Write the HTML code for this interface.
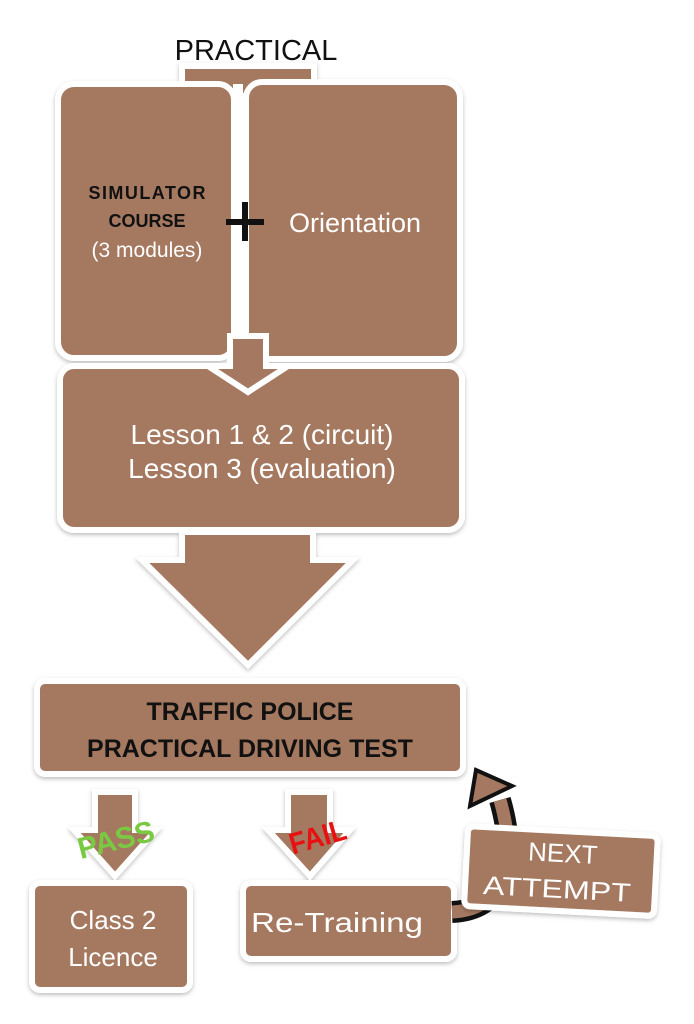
<!DOCTYPE html>
<html><head><style>body{margin:0;background:#fff}svg{display:block}</style></head>
<body>
<svg width="694" height="1024" viewBox="0 0 694 1024" xmlns="http://www.w3.org/2000/svg" font-family="Liberation Sans, sans-serif">
<defs><filter id="sh" x="-10%" y="-10%" width="120%" height="130%"><feDropShadow dx="0" dy="2" stdDeviation="2" flood-color="#000" flood-opacity="0.25"/></filter></defs>
<g fill="#a57961" stroke="#fff" stroke-width="6" filter="url(#sh)">
<rect x="182" y="66" width="132" height="30"/>
<rect x="58" y="84" width="176" height="274" rx="16"/>
<rect x="246" y="82" width="214" height="277" rx="16"/>
<rect x="60" y="366" width="402" height="164" rx="14"/>
<polygon points="182,532 313,532 313,560 353,560 248,665 142,560 182,560"/>
<rect x="37" y="681" width="426" height="93" rx="8"/>
<polygon points="95,792 135,792 135,830 156,830 115,876 74,830 95,830"/>
<polygon points="288,792 330,792 330,830 350,830 310,876 268,830 288,830"/>
<rect x="32" y="883" width="158" height="107" rx="8"/>
<rect x="243" y="883" width="211" height="76" rx="8"/>
</g>
<line x1="238" y1="84" x2="238" y2="340" stroke="#fff" stroke-width="10"/>
<polygon points="230,336 266,336 266,366 288,366 248,392 208,366 230,366" fill="#a57961" stroke="#fff" stroke-width="6"/>
<text x="256" y="60" font-size="29" text-anchor="middle" fill="#111">PRACTICAL</text>
<text x="147" y="199" font-size="18" font-weight="bold" text-anchor="middle" fill="#111" textLength="117">SIMULATOR</text>
<text x="147" y="227" font-size="18" font-weight="bold" text-anchor="middle" fill="#111">COURSE</text>
<text x="147" y="257" font-size="21" text-anchor="middle" fill="#fff">(3 modules)</text>
<path d="M226,222 H264 M245,202 V241" stroke="#111" stroke-width="6"/>
<text x="355" y="232" font-size="27" text-anchor="middle" fill="#fff">Orientation</text>
<text x="262" y="444" font-size="28" text-anchor="middle" fill="#fff">Lesson 1 &amp; 2 (circuit)</text>
<text x="262" y="478" font-size="28" text-anchor="middle" fill="#fff">Lesson 3 (evaluation)</text>
<text x="250" y="720" font-size="25" font-weight="bold" text-anchor="middle" fill="#111">TRAFFIC POLICE</text>
<text x="250" y="757" font-size="25" font-weight="bold" text-anchor="middle" fill="#111">PRACTICAL DRIVING TEST</text>
<text x="116" y="850" font-size="30" font-weight="bold" text-anchor="middle" fill="#7ac943" transform="rotate(-14 116 840)" textLength="78" lengthAdjust="spacingAndGlyphs">PASS</text>
<text x="318" y="847" font-size="30" font-weight="bold" text-anchor="middle" fill="#e81010" transform="rotate(-16 318 838)" textLength="58" lengthAdjust="spacingAndGlyphs">FAIL</text>
<text x="113" y="929" font-size="26" text-anchor="middle" fill="#fff">Class 2</text>
<text x="113" y="966" font-size="26" text-anchor="middle" fill="#fff">Licence</text>
<text x="337" y="932" font-size="28" text-anchor="middle" fill="#fff" textLength="172" lengthAdjust="spacingAndGlyphs">Re-Training</text>
<path d="M452,912 C500,910 520,870 500,800" fill="none" stroke="#111" stroke-width="22"/>
<path d="M452,912 C500,910 520,870 500,800" fill="none" stroke="#a57961" stroke-width="13"/>
<polygon points="476,770 470,806 512,786" fill="#a57961" stroke="#111" stroke-width="4" stroke-linejoin="miter"/>
<g transform="rotate(3 560 870)">
<rect x="466" y="831" width="190" height="80" rx="6" fill="#a57961" stroke="#fff" stroke-width="6" filter="url(#sh)"/>
<text x="562" y="862" font-size="26" text-anchor="middle" fill="#fff">NEXT</text>
<text x="558" y="898" font-size="26" text-anchor="middle" fill="#fff" textLength="148" lengthAdjust="spacingAndGlyphs">ATTEMPT</text>
</g>
</svg>
</body></html>
